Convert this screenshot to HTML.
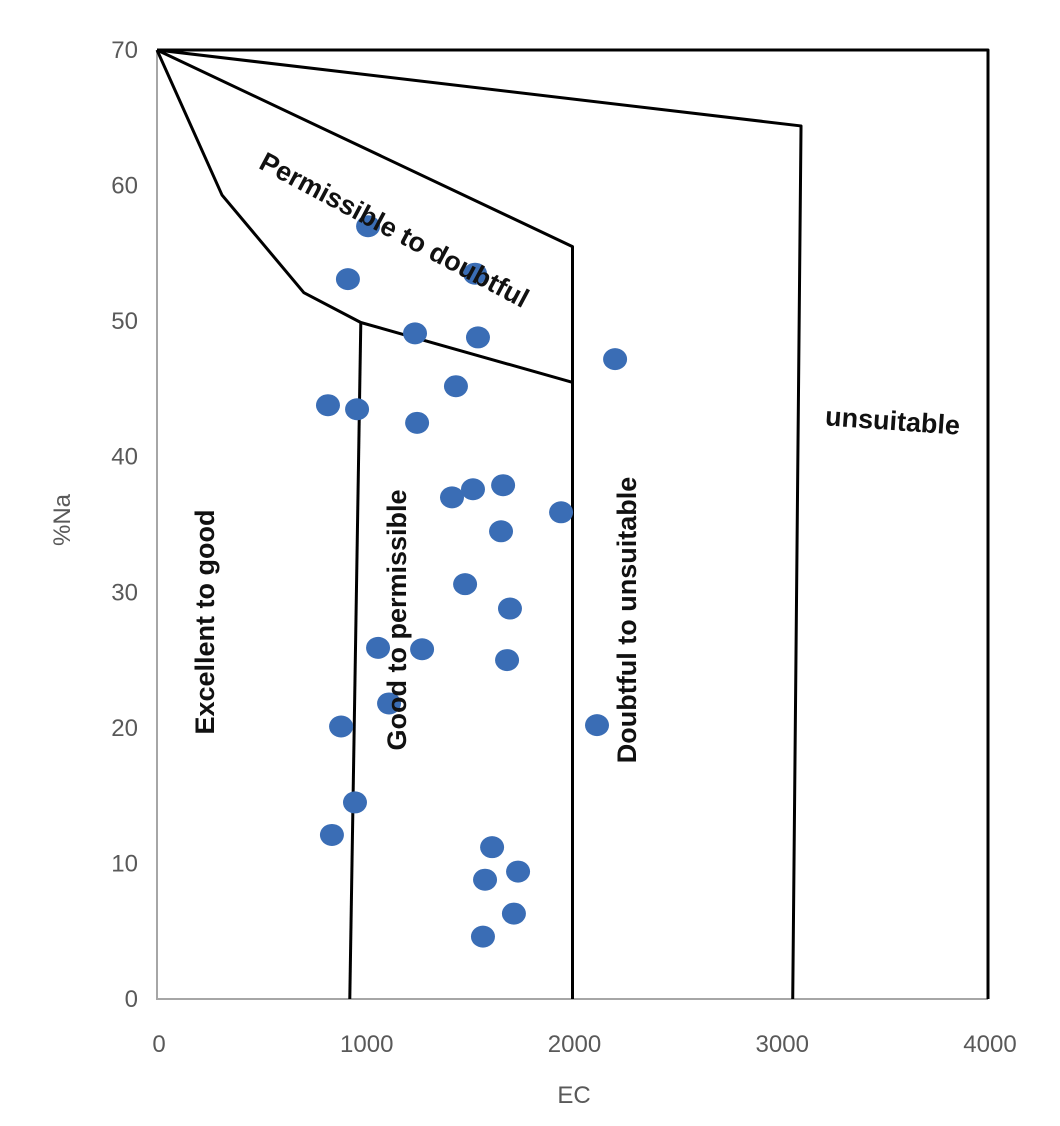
<!DOCTYPE html>
<html><head><meta charset="utf-8"><style>
body{margin:0;background:#fff}
svg{display:block}
.tk{font-family:"Liberation Sans",sans-serif;font-size:24px;fill:#595959}
.zl{font-family:"Liberation Sans",sans-serif;font-size:27px;fill:#111;font-weight:bold}
</style></head><body>
<svg id="c" width="1060" height="1126" viewBox="0 0 1060 1126">
<g id="axes"></g><g id="bounds"></g><g id="pts"></g>
<text class="zl" transform="translate(390,238) rotate(28)" text-anchor="middle">Permissible to doubtful</text>
<text class="zl" transform="translate(892,430) rotate(4)" text-anchor="middle">unsuitable</text>
<text class="zl" transform="translate(214,622) rotate(-90)" text-anchor="middle">Excellent to good</text>
<text class="zl" transform="translate(406,620) rotate(-90)" text-anchor="middle">Good to permissible</text>
<text class="zl" transform="translate(636,620) rotate(-90)" text-anchor="middle">Doubtful to unsuitable</text>
<text class="tk" x="574" y="1103" text-anchor="middle" font-size="25">EC</text>
<text class="tk" transform="translate(70,520) rotate(-90)" text-anchor="middle" font-size="25">%Na</text>
</svg>
<script>
const xTicks=[0,1000,2000,3000,4000];
const yTicks=[0,10,20,30,40,50,60,70];
const ecValues=[1016,919,1531,1242,1545,2205,1439,823,963,1252,1420,1521,1666,1945,1656,1483,1699,1064,1276,1685,1117,886,2118,953,842,1613,1579,1738,1718,1569];
const naValues=[57.0,53.1,53.5,49.1,48.8,47.2,45.2,43.8,43.5,42.5,37.0,37.6,37.9,35.9,34.5,30.6,28.8,25.9,25.8,25.0,21.8,20.1,20.2,14.5,12.1,11.2,8.8,9.4,6.3,4.6];
const boundUnsuitable=[[0,70],[3100,64.4],[3060,0]];
const boundDoubtful=[[0,70],[2000,55.5],[2000,0]];
const boundPermLower=[[0,70],[313,59.3],[707,52.1],[981,49.9],[1997,45.5]];
const boundGood=[[981,49.9],[928,0]];
const boundOuter=[[0,70],[4000,70],[4000,0]];
const X=v=>157+v*0.20775, Y=v=>999-v*13.557;
const NS="http://www.w3.org/2000/svg";
const mk=(t,a,p)=>{const e=document.createElementNS(NS,t);for(const k in a)e.setAttribute(k,a[k]);p.appendChild(e);return e;};
const ax=document.getElementById('axes');
let l=mk('path',{d:`M${X(0)},${Y(70)}V${Y(0)}H${X(4000)}`,stroke:'#a6a6a6','stroke-width':2,fill:'none'},ax);


xTicks.forEach(v=>{const t=mk('text',{x:X(v)+2,y:1052,'text-anchor':'middle',class:'tk'},ax);t.textContent=v;

});
yTicks.forEach(v=>{const t=mk('text',{x:138,y:Y(v)+8,'text-anchor':'end',class:'tk'},ax);t.textContent=v;

});
const bg=document.getElementById('bounds');
[[boundOuter,'outer-boundary'],[boundUnsuitable,'unsuitable-boundary'],[boundDoubtful,'doubtful-boundary'],[boundPermLower,'permissible-boundary'],[boundGood,'good-boundary']].forEach(([a,n])=>{
const p=mk('polyline',{points:a.map(q=>X(q[0])+','+Y(q[1])).join(' '),fill:'none',stroke:'#000','stroke-width':3,'stroke-linejoin':'round'},bg);

});
const pg=document.getElementById('pts');
ecValues.forEach((e,i)=>{const c=mk('ellipse',{cx:X(e),cy:Y(naValues[i]),rx:12,ry:11,fill:'#3a6db5'},pg);

});
</script>
</body></html>
